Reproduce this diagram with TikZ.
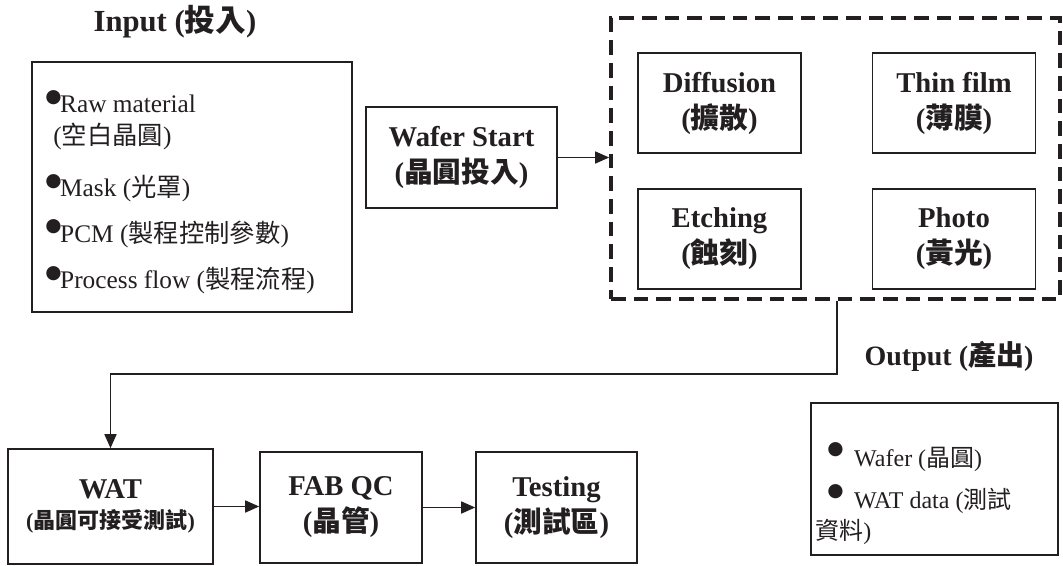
\documentclass[tikz,border=0pt]{standalone}
\usepackage{fontspec}
\setmainfont{Liberation Serif}
\newfontfamily\cjk{Noto Sans CJK TC}
\newfontfamily\symf{DejaVu Sans}
\usetikzlibrary{arrows.meta}
\definecolor{ink}{RGB}{35,31,32}
\newcommand{\zh}[1]{{\cjk #1}}
\newcommand{\bul}[2][8pt]{\smash{\raisebox{#1}{\symf\fontsize{#2}{#2}\selectfont ●}}}

\begin{document}
\begin{tikzpicture}[x=0.75pt,y=0.75pt,yscale=-1,xscale=1,
  box/.style={draw=ink, line width=1.2pt, align=center, inner sep=2pt, text=ink, font=\fontsize{21.5}{27}\selectfont\bfseries},
  stepbox/.style={box, minimum width=122.25pt, minimum height=75pt},
  listbox/.style={draw=ink, line width=1.2pt},
  listtext/.style={align=left, inner sep=0pt, text=ink, font=\fontsize{19}{24}\selectfont},
  title/.style={text=ink, font=\fontsize{23}{28}\selectfont\bfseries},
  flow/.style={draw=ink, line width=1.2pt, -{Triangle[length=10.5pt,width=9pt]}}]
%set diagram size to 1063 x 565
\useasboundingbox (0,0) rectangle (1063,565);

% Input
\node[title] (intitle) at (175,22) {Input (\zh{投入})};
\node[listbox, minimum width=240pt, minimum height=187.5pt] (inbox) at (192,187) {};
\node[listtext, anchor=north west] (inlist) at (45,95) {\bul{14}\kern-1pt Raw material\\
  \hspace*{6pt}(\zh{空白晶圓})\\[15pt]
  \bul{14}\kern-1pt Mask (\zh{光罩})\\[10pt]
  \bul{14}\kern-1pt PCM (\zh{製程控制參數})\\[11pt]
  \bul{14}\kern-1pt Process flow (\zh{製程流程})};

% Wafer start
\node[box, minimum width=143.25pt, minimum height=75.75pt] (wstart) at (461.5,157.5) {Wafer Start\\(\zh{晶圓投入})};

% Fab area (dashed)
\node[draw=ink, line width=2.8pt, dash pattern=on 11pt off 6pt, minimum width=336.75pt, minimum height=210.75pt] (fabarea) at (835.5,158.5) {};
\node[stepbox] (diff) at (719.5,103) {Diffusion\\(\zh{擴散})};
\node[stepbox] (thin) at (954,103) {Thin film\\(\zh{薄膜})};
\node[stepbox] (etch) at (719.5,239) {Etching\\(\zh{蝕刻})};
\node[stepbox] (photo) at (954,239) {Photo\\(\zh{黃光})};

% Test line
\node[box, minimum width=153.75pt, minimum height=86.25pt] (wat) at (110.5,506.5) {WAT\\[-5pt]{\fontsize{16.5}{20}\selectfont(\zh{晶圓可接受測試})}};
\node[box, minimum width=121.5pt, minimum height=83.25pt] (fabqc) at (341,507.5) {FAB QC\\(\zh{晶管})};
\node[box, minimum width=120.75pt, minimum height=83.25pt] (testing) at (556.5,507.5) {Testing\\(\zh{測試區})};

% Output
\node[title, font=\fontsize{21}{26}\selectfont\bfseries] (outtitle) at (949,356) {Output (\zh{產出})};
\node[listbox, minimum width=185.25pt, minimum height=114pt] (outbox) at (934.5,479) {};
\node[listtext, font=\fontsize{18}{23.5}\selectfont, anchor=north west] (outlist) at (815,447) {\hspace*{9pt}\bul[9pt]{14}\hspace{8pt}Wafer (\zh{晶圓})\\[8pt]
  \hspace*{9pt}\bul[9pt]{14}\hspace{8pt}WAT data (\zh{測試}\\
  \zh{資料})};

% Arrows
\draw[flow] (wstart.east) -- (wstart.east -| fabarea.west);
\coordinate (turn) at (837,374);
\draw[flow] (fabarea.south -| turn) -- (turn) -- (wat.north |- turn) -- (wat.north);
\draw[flow] (wat.east) -- (wat.east -| fabqc.west);
\draw[flow] (fabqc.east) -- (fabqc.east -| testing.west);

\end{tikzpicture}
\end{document}
